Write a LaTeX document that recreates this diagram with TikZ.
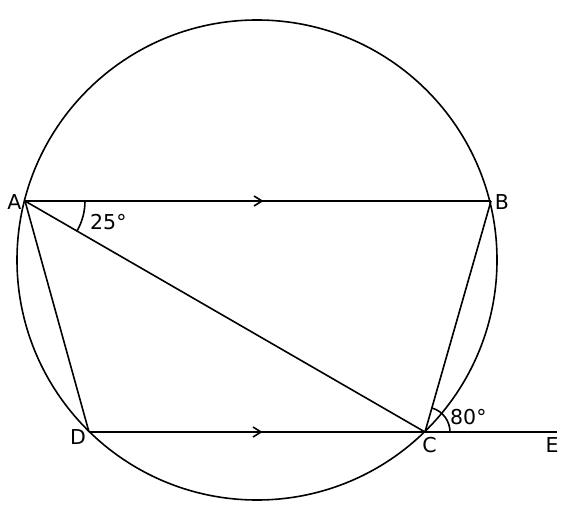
\documentclass[tikz,border=0pt]{standalone}
\usepackage{fontspec}
\setmainfont{DejaVu Sans}
\usetikzlibrary{angles,decorations.markings}
\begin{document}
\begin{tikzpicture}[x=1pt,y=-1pt,
  geo/.style={line width=1.6pt},
  lbl/.style={inner sep=0pt,anchor=base,font=\fontsize{20.5}{22}\selectfont},
  parmark/.style={postaction={decorate,decoration={markings,
     mark=at position 0.5 with {\draw[line width=1.6pt] (-4pt,5pt)--(4pt,0pt)--(-4pt,-5pt);}}}}]
\useasboundingbox (0,0) rectangle (570,516);
\coordinate (O) at (257,260);
\coordinate (A) at (25,201);
\coordinate (B) at (491,201);
\coordinate (C) at (425,432);
\coordinate (D) at (89,432);
\coordinate (E) at (557,432);
\draw[geo] (O) circle[radius=240];
\draw[geo,parmark] (A) -- (B);
\draw[geo,parmark] (D) -- (C);
\draw[geo] (A) -- (C);
\draw[geo] (A) -- (D);
\draw[geo] (B) -- (C);
\draw[geo] (C) -- (E);
\pic[draw,geo,angle radius=60pt] {angle=C--A--B};
\pic[draw,geo,angle radius=25pt] {angle=E--C--B};
\node[lbl] (la) at (14.5,209) {A};
\node[lbl] (lb) at (502,209) {B};
\node[lbl] (lc) at (429.5,452) {C};
\node[lbl] (ld) at (78,444) {D};
\node[lbl] (le) at (552,452) {E};
\node[lbl,anchor=base west] (l25) at (90,229.5) {25°};
\node[lbl,anchor=base west] (l80) at (450,424.5) {80°};
\end{tikzpicture}
\end{document}
